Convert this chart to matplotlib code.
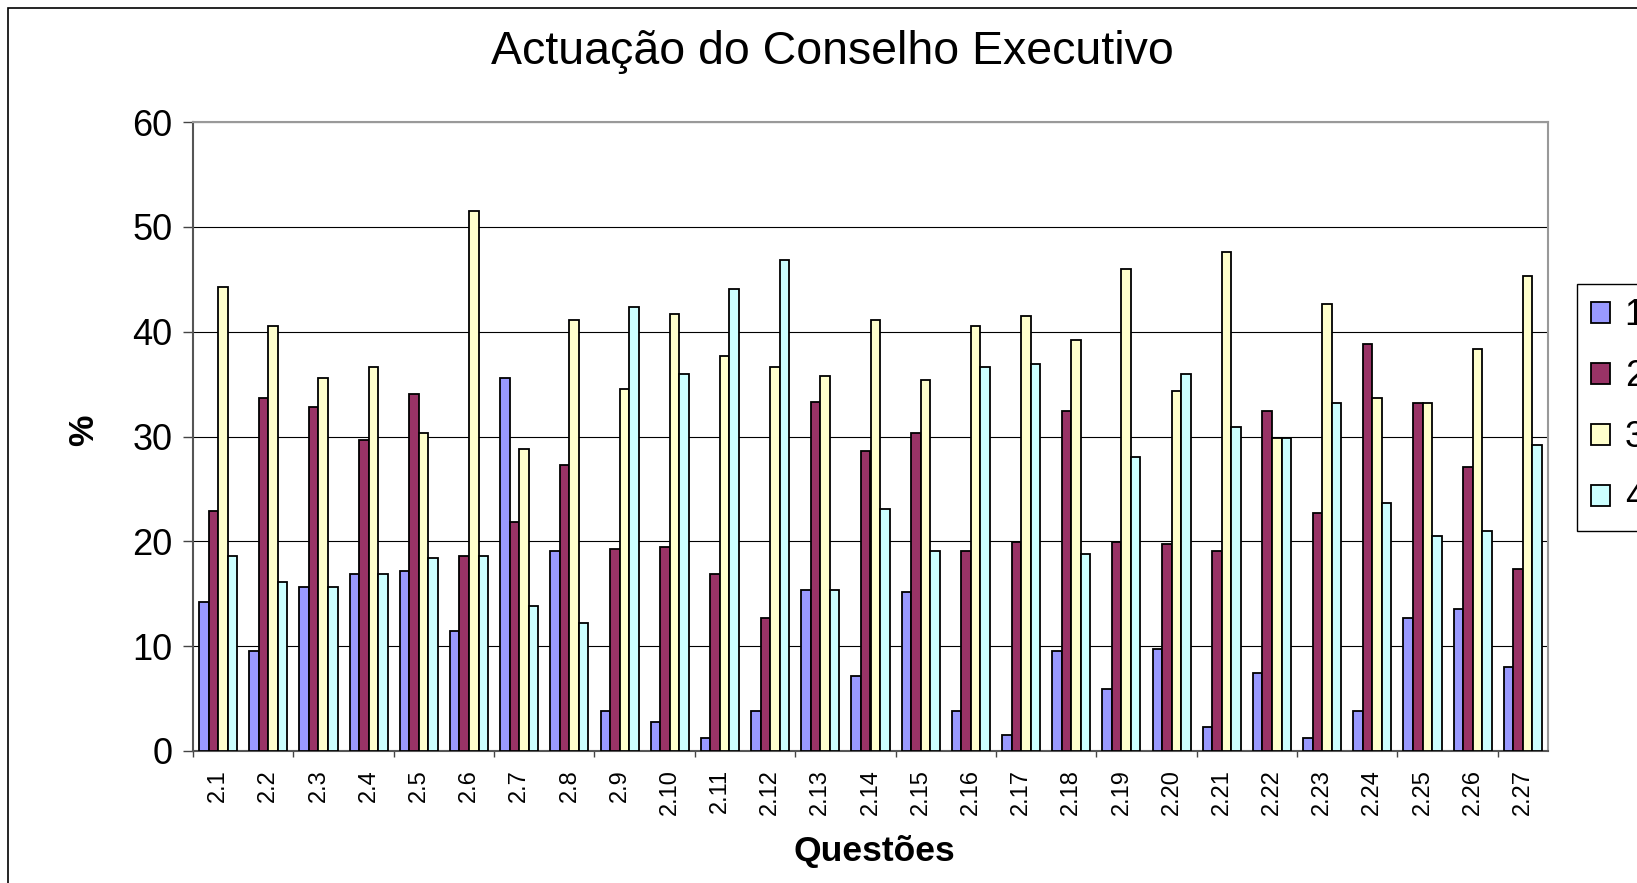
import numpy as np
import matplotlib.pyplot as plt
from matplotlib.patches import Rectangle, Patch

plt.rcParams['font.family'] = ['Liberation Sans', 'DejaVu Sans']

questoes = ["2.%d" % i for i in range(1, 28)]
s1 = [14.2, 9.5, 15.6, 16.9, 17.2, 11.4, 35.6, 19.1, 3.8, 2.8, 1.2, 3.8, 15.4, 7.2,
      15.2, 3.8, 1.5, 9.5, 5.9, 9.7, 2.3, 7.4, 1.2, 3.8, 12.7, 13.5, 8.0]
s2 = [22.9, 33.7, 32.8, 29.7, 34.1, 18.6, 21.8, 27.3, 19.3, 19.5, 16.9, 12.7, 33.3, 28.6,
      30.3, 19.1, 19.9, 32.4, 19.9, 19.7, 19.1, 32.4, 22.7, 38.8, 33.2, 27.1, 17.4]
s3 = [44.3, 40.5, 35.6, 36.6, 30.3, 51.5, 28.8, 41.1, 34.5, 41.7, 37.7, 36.6, 35.8, 41.1,
      35.4, 40.5, 41.5, 39.2, 46.0, 34.3, 47.6, 29.9, 42.6, 33.7, 33.2, 38.3, 45.3]
s4 = [18.6, 16.1, 15.6, 16.9, 18.4, 18.6, 13.8, 12.2, 42.4, 36.0, 44.1, 46.8, 15.4, 23.1,
      19.1, 36.6, 36.9, 18.8, 28.0, 36.0, 30.9, 29.9, 33.2, 23.7, 20.5, 21.0, 29.2]
series = [s1, s2, s3, s4]
nomes = ["1", "2", "3", "4"]
cores = ["#9999FF", "#993366", "#FFFFCC", "#CCFFFF"]

W, H = 1637, 883
fig = plt.figure(figsize=(W / 100, H / 100), dpi=100)
ax = fig.add_axes([193 / W, 1 - 751 / H, (1548 - 193) / W, (751 - 122) / H])

x = np.arange(len(questoes))
bw = 0.19
for k, (vals, cor) in enumerate(zip(series, cores)):
    ax.bar(x + (k - 1.5) * bw, vals, bw, color=cor, edgecolor="black",
           linewidth=1.3, zorder=3)

ax.set_xlim(-0.5, len(questoes) - 0.5)
ax.set_ylim(0, 60)
ax.set_yticks(range(0, 61, 10))
ax.tick_params(axis='y', labelsize=26, length=7, width=1, color="#444444", pad=8)
ax.set_xticks(x)
ax.set_xticklabels(questoes, rotation=90, fontsize=17)
ax.tick_params(axis='x', length=0, pad=13)
ax.set_xticks(np.arange(-0.5, len(questoes) - 1, 2), minor=True)
ax.tick_params(axis='x', which='minor', length=4.5, width=1, color="#444444", direction='out')

ax.grid(axis='y', color="black", linewidth=0.8, zorder=0)
for side in ["top", "right"]:
    ax.spines[side].set_color("#999999")
    ax.spines[side].set_linewidth(1.5)
for side in ["left", "bottom"]:
    ax.spines[side].set_color("#555555")
    ax.spines[side].set_linewidth(1.5)

fig.text(832 / W, 1 - 52 / H, "Actuação do Conselho Executivo", fontsize=33.5,
         ha="center", va="center")
fig.text(874 / W, 1 - 852 / H, "Questões", fontsize=25.5, fontweight="bold",
         ha="center", va="center")
fig.text(84 / W, 1 - 430 / H, "%", fontsize=25.5, fontweight="bold", rotation=90,
         ha="center", va="center")

handles = [Patch(facecolor=c, edgecolor="black", linewidth=1.3) for c in cores]
leg = fig.legend(handles, nomes, loc="upper left",
                 bbox_to_anchor=(1577 / W, 1 - 284 / H), borderaxespad=0,
                 fontsize=26, frameon=True, fancybox=False, framealpha=1,
                 edgecolor="black", handlelength=0.52, handleheight=0.52,
                 handletextpad=0.4, labelspacing=0.72, borderpad=0.4)
leg.get_frame().set_linewidth(1.0)

fig.patches.append(Rectangle((8 / W, -0.1), 1.0, 1 - 8 / H + 0.1,
                             transform=fig.transFigure, fill=False,
                             edgecolor="black", linewidth=1.2))

fig.savefig("out.png", dpi=100)
